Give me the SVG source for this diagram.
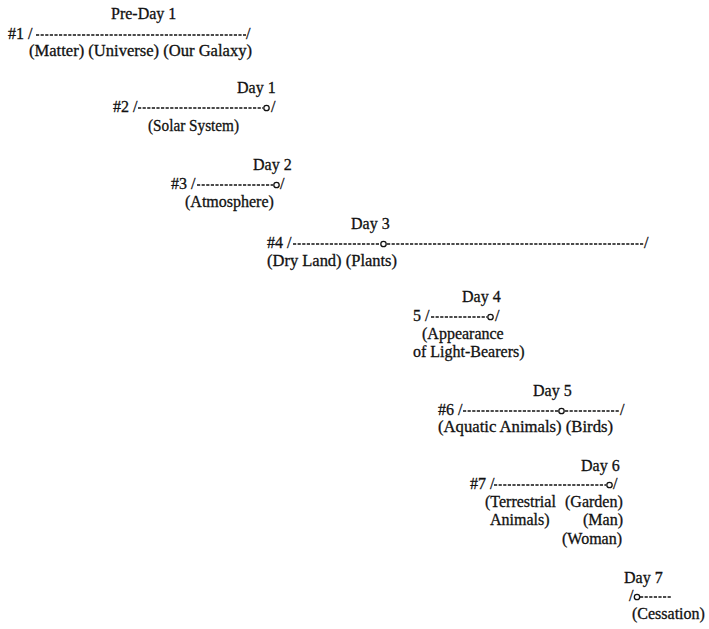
<svg xmlns="http://www.w3.org/2000/svg" width="709" height="629" viewBox="0 0 709 629">
<style>
text{font-family:"Liberation Serif","Times New Roman",serif;font-size:16px;fill:#111;stroke:#111;stroke-width:0.3}
.d{stroke:#111;stroke-width:1.4;stroke-dasharray:3.2 1.4;fill:none}
.o{fill:none;stroke:#111;stroke-width:1.3}
</style>
<rect width="709" height="629" fill="#fff"/>
<g id="pre-day-1">
<text x="111" y="19">Pre-Day 1</text>
<text x="8" y="39">#1 /</text>
<line class="d" x1="36" y1="35" x2="246" y2="35"/>
<text x="246" y="39">/</text>
<text x="29" y="56" textLength="223" lengthAdjust="spacingAndGlyphs">(Matter) (Universe) (Our Galaxy)</text>
</g>
<g id="day-1">
<text x="237" y="93">Day 1</text>
<text x="113" y="112">#2 /</text>
<line class="d" x1="138" y1="108" x2="263" y2="108"/>
<circle class="o" cx="266.5" cy="108" r="2.7"/>
<text x="271" y="112">/</text>
<text x="148" y="131" textLength="91" lengthAdjust="spacingAndGlyphs">(Solar System)</text>
</g>
<g id="day-2">
<text x="253" y="170">Day 2</text>
<text x="171" y="189">#3 /</text>
<line class="d" x1="197" y1="185" x2="273" y2="185"/>
<circle class="o" cx="276.5" cy="185" r="2.7"/>
<text x="280" y="189">/</text>
<text x="185" y="207">(Atmosphere)</text>
</g>
<g id="day-3">
<text x="351" y="229">Day 3</text>
<text x="267" y="248">#4 /</text>
<line class="d" x1="293" y1="244" x2="380" y2="244"/>
<circle class="o" cx="383.5" cy="244" r="2.7"/>
<line class="d" x1="387" y1="244" x2="644" y2="244"/>
<text x="644" y="248">/</text>
<text x="267" y="266" textLength="130" lengthAdjust="spacingAndGlyphs">(Dry Land) (Plants)</text>
</g>
<g id="day-4">
<text x="462" y="302">Day 4</text>
<text x="413" y="321">5 /</text>
<line class="d" x1="431" y1="317" x2="487" y2="317"/>
<circle class="o" cx="490.5" cy="317" r="2.7"/>
<text x="495" y="321">/</text>
<text x="422" y="339">(Appearance</text>
<text x="413" y="357">of Light-Bearers)</text>
</g>
<g id="day-5">
<text x="533" y="396">Day 5</text>
<text x="438" y="415">#6 /</text>
<line class="d" x1="463" y1="411" x2="558" y2="411"/>
<circle class="o" cx="561.5" cy="411" r="2.7"/>
<line class="d" x1="565" y1="411" x2="620" y2="411"/>
<text x="620" y="415">/</text>
<text x="438" y="432" textLength="175" lengthAdjust="spacingAndGlyphs">(Aquatic Animals) (Birds)</text>
</g>
<g id="day-6">
<text x="581" y="471">Day 6</text>
<text x="470" y="489">#7 /</text>
<line class="d" x1="494" y1="485" x2="606" y2="485"/>
<circle class="o" cx="609.5" cy="485" r="2.7"/>
<text x="613" y="489">/</text>
<text x="485" y="507">(Terrestrial</text>
<text x="565" y="507">(Garden)</text>
<text x="490" y="525">Animals)</text>
<text x="583" y="525">(Man)</text>
<text x="562" y="544">(Woman)</text>
</g>
<g id="day-7">
<text x="624" y="583">Day 7</text>
<text x="629" y="601">/</text>
<circle class="o" cx="637" cy="597" r="2.7"/>
<line class="d" x1="640" y1="597" x2="672" y2="597"/>
<text x="632" y="619">(Cessation)</text>
</g>
<g id="connectors"/>
</svg>
